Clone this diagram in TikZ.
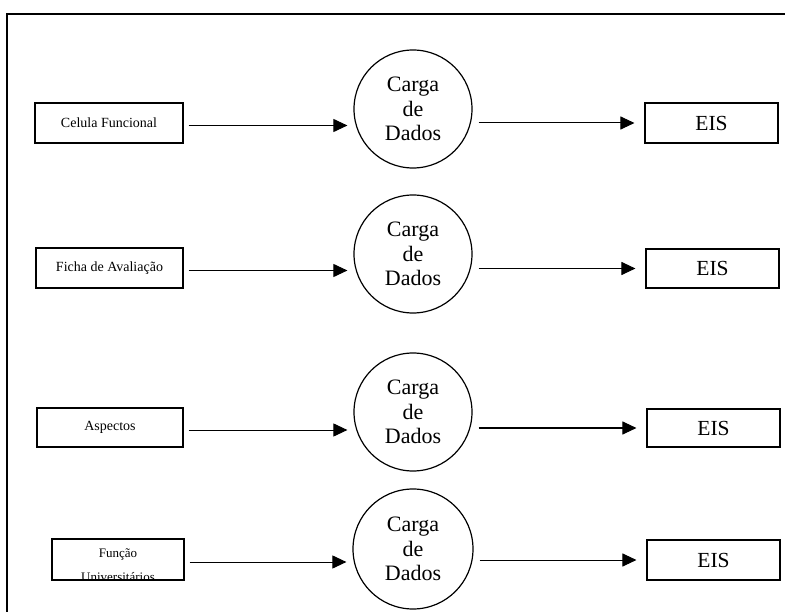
\documentclass[tikz,border=0pt]{standalone}
\usepackage{fontspec}
\setmainfont{Liberation Serif}
\usetikzlibrary{arrows.meta}
\begin{document}
\begin{tikzpicture}[x=1pt,y=-1pt,
  srcbox/.style={draw, line width=1.1pt, rectangle, inner sep=0pt, font=\fontsize{14}{16}\selectfont},
  eisbox/.style={draw, line width=1.1pt, rectangle, inner sep=0pt, minimum width=133pt, font=\fontsize{21.5}{24}\selectfont},
  loadcircle/.style={draw, line width=1.2pt, circle, inner sep=0pt, minimum size=118pt, align=center, font=\fontsize{22}{24.5}\selectfont},
  flow/.style={line width=1pt, -{Triangle[length=14pt,width=13pt]}}
]
\useasboundingbox (0,0) rectangle (785,612);
\clip (0,0) rectangle (785,612);

% outer frame (runs past the page on the right and bottom)
\draw[line width=1.8pt] (7,14) rectangle (810,640);

% row 1
\node[srcbox, minimum width=148pt, minimum height=40pt] (src1) at (109,123) {Celula Funcional};
\node[loadcircle] (load1) at (413,109) {Carga\\de\\Dados};
\node[eisbox, minimum height=40pt] (eis1) at (711.5,123) {EIS};

% row 2
\node[srcbox, minimum width=147pt, minimum height=40pt] (src2) at (109.5,268) {Ficha de Avaliação};
\node[loadcircle] (load2) at (413,254) {Carga\\de\\Dados};
\node[eisbox, minimum height=39pt] (eis2) at (712.5,268.5) {EIS};

% row 3
\node[srcbox, minimum width=146pt, minimum height=39pt] (src3) at (110,427.5) {Aspectos};
\node[loadcircle] (load3) at (413,412) {Carga\\de\\Dados};
\node[eisbox, minimum height=38pt] (eis3) at (713.5,428) {EIS};

% row 4: the two-line label is cut off by the box edge
\node[srcbox, minimum width=132pt, minimum height=41pt] (src4) at (118,559.5) {};
\begin{scope}
  \clip (src4.south west) rectangle (src4.north east);
  \node[anchor=base, inner sep=0pt, font=\fontsize{13}{15}\selectfont] (src4a) at (118,557) {Função};
  \node[anchor=base, inner sep=0pt, font=\fontsize{13}{15}\selectfont] (src4b) at (118,581.5) {Universitários};
\end{scope}
\node[loadcircle, minimum size=120pt] (load4) at (413,549) {Carga\\de\\Dados};
\node[eisbox, minimum height=40pt] (eis4) at (713.5,560) {EIS};

% connectors
\foreach \i in {1,2,3,4}{
  \draw[flow, shorten <=5pt, shorten >=6pt] ([yshift=-2.5pt]src\i.east) -- ([yshift=-2.5pt]src\i.east -| load\i.west);
  \draw[flow, shorten <=6pt, shorten >=10pt] (load\i.east |- eis\i.west) -- (eis\i.west);
}
\end{tikzpicture}
\end{document}
